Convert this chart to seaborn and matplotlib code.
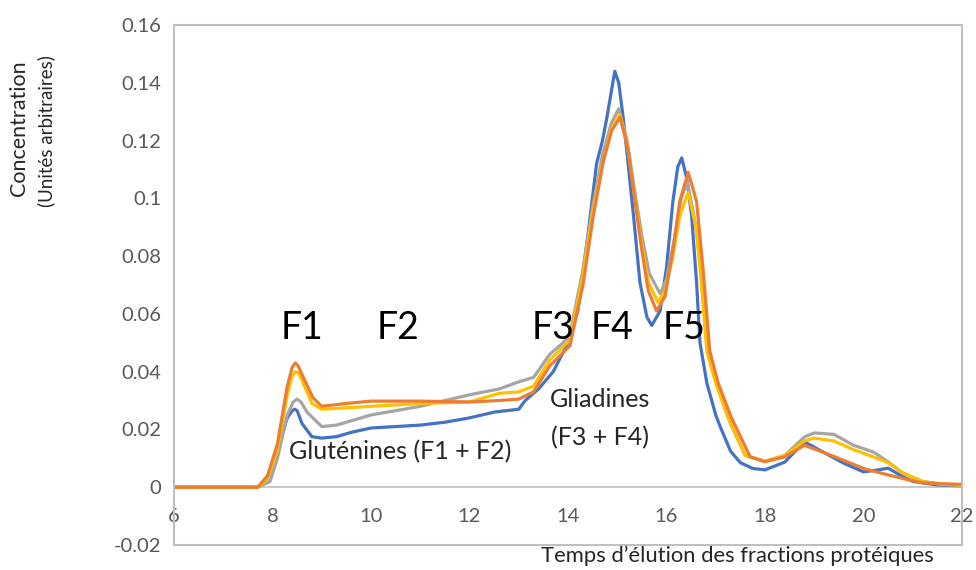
import numpy as np
import pandas as pd
import matplotlib
matplotlib.use("Agg")
import matplotlib.pyplot as plt
import seaborn as sns

# ---- data ----
x_blue = [6, 7, 7.7, 7.9, 8.1, 8.3, 8.4, 8.45, 8.5, 8.6, 8.8, 9.0, 9.3, 9.6, 10, 10.5, 11, 11.5, 12, 12.5, 13.0,
          13.13, 13.4, 13.7, 14.0, 14.2, 14.41, 14.58, 14.7, 14.79, 14.88, 14.95, 15.03, 15.12, 15.19,
          15.33, 15.46, 15.6, 15.7, 15.87, 16.0, 16.13, 16.23, 16.31, 16.41, 16.51, 16.61, 16.68,
          16.82, 17.0, 17.09, 17.3, 17.5, 17.75, 18.0, 18.4, 18.8, 19.2, 19.6, 20.0, 20.3, 20.5, 20.8, 21.0,
          21.5, 22]
y_blue = [0, 0, 0, 0.003, 0.013, 0.024, 0.0265, 0.027, 0.0265, 0.022, 0.0175, 0.017, 0.0175, 0.019, 0.0205,
          0.021, 0.0215, 0.0225, 0.024, 0.026, 0.027, 0.030, 0.034, 0.040, 0.050, 0.061, 0.088, 0.112, 0.120,
          0.128, 0.137, 0.144, 0.140, 0.128, 0.117, 0.094, 0.071, 0.059, 0.056, 0.061, 0.076,
          0.099, 0.111, 0.114, 0.107, 0.094, 0.071, 0.050, 0.036, 0.025, 0.021, 0.0125, 0.0085,
          0.0065, 0.006, 0.0087, 0.0157, 0.012, 0.0083, 0.0053, 0.006, 0.0066, 0.0036, 0.002, 0.0008, 0.0005]

x_grey = [6, 7, 7.7, 7.95, 8.1, 8.3, 8.42, 8.5, 8.58, 8.7, 9.0, 9.3, 9.6, 10, 10.5, 11, 11.5, 12, 12.6, 13.0,
          13.3, 13.63, 13.9, 14.04, 14.3, 14.5, 14.7, 14.88, 15.03, 15.2, 15.35, 15.5, 15.65, 15.87,
          16.0, 16.15, 16.3, 16.42, 16.6, 16.75, 16.85, 17.02, 17.3, 17.6, 18.0, 18.4, 18.8,
          19.0, 19.4, 19.8, 20.2, 20.5, 20.8, 21.2, 21.6, 22]
y_grey = [0, 0, 0, 0.002, 0.010, 0.025, 0.0295, 0.0305, 0.0295, 0.026, 0.021, 0.0215, 0.023, 0.025, 0.0265,
          0.028, 0.030, 0.032, 0.034, 0.0365, 0.038, 0.046, 0.050, 0.053, 0.075, 0.097, 0.115, 0.126,
          0.131, 0.120, 0.103, 0.087, 0.074, 0.067, 0.072, 0.085, 0.100, 0.106, 0.090,
          0.068, 0.048, 0.036, 0.022, 0.011, 0.009, 0.011, 0.0174, 0.0188, 0.0183, 0.0145, 0.0122, 0.0088,
          0.0048, 0.002, 0.001, 0.0007]

x_yellow = [6, 7, 7.7, 7.9, 8.1, 8.3, 8.4, 8.47, 8.53, 8.6, 8.8, 9.0, 9.5, 10, 11, 12, 12.6, 13.0, 13.3, 13.63,
            14.04, 14.3, 14.5, 14.7, 14.88, 15.05, 15.2, 15.36, 15.5, 15.63, 15.83, 15.97, 16.13,
            16.27, 16.44, 16.6, 16.7, 16.82, 17.0, 17.25, 17.6, 18.0, 18.4, 18.8, 19.0, 19.4, 19.8,
            20.2, 20.5, 20.8, 21.2, 21.6, 22]
y_yellow = [0, 0, 0, 0.003, 0.013, 0.032, 0.0385, 0.040, 0.0395, 0.037, 0.029, 0.027, 0.0275, 0.028, 0.029,
            0.0295, 0.0325, 0.033, 0.035, 0.044, 0.051, 0.073, 0.095, 0.112, 0.124, 0.129,
            0.119, 0.100, 0.084, 0.071, 0.064, 0.068, 0.080, 0.094, 0.102, 0.090, 0.072, 0.047,
            0.036, 0.024, 0.011, 0.009, 0.011, 0.016, 0.017, 0.016, 0.013, 0.0105, 0.0085, 0.005, 0.002,
            0.001, 0.0007]

x_orange = [6, 7, 7.7, 7.9, 8.1, 8.3, 8.4, 8.46, 8.52, 8.6, 8.82, 9.0, 9.5, 10, 11, 12, 12.6, 13.0, 13.3, 13.63,
            14.04, 14.31, 14.51, 14.72, 14.89, 15.06, 15.22, 15.36, 15.5, 15.63, 15.8, 15.97,
            16.13, 16.27, 16.44, 16.61, 16.74, 16.88, 17.05, 17.32, 17.7, 18.0, 18.4, 18.8, 19.2,
            19.6, 20.0, 20.4, 20.8, 21.2, 21.6, 22]
y_orange = [0, 0, 0, 0.004, 0.015, 0.035, 0.0415, 0.043, 0.042, 0.039, 0.031, 0.028, 0.029, 0.0298, 0.0298,
            0.0295, 0.030, 0.0305, 0.033, 0.042, 0.049, 0.0706, 0.0936, 0.113, 0.1236, 0.128,
            0.117, 0.099, 0.082, 0.068, 0.061, 0.066, 0.082, 0.099, 0.109, 0.099, 0.076, 0.047,
            0.036, 0.024, 0.0105, 0.0088, 0.0105, 0.0145, 0.012, 0.0093, 0.0065, 0.0047, 0.003, 0.0015,
            0.0012, 0.001]

series_names = ["s1", "s3", "s4", "s2"]
series_colors = ["#4472C4", "#A5A5A5", "#FFC000", "#ED7D31"]

x_ticks = [6, 8, 10, 12, 14, 16, 18, 20, 22]
y_ticks = [-0.02, 0, 0.02, 0.04, 0.06, 0.08, 0.1, 0.12, 0.14, 0.16]
y_tick_labels = ["-0.02", "0", "0.02", "0.04", "0.06", "0.08", "0.1", "0.12", "0.14", "0.16"]

fraction_labels = ["F1", "F2", "F3", "F4", "F5"]
fraction_x = [8.6, 10.55, 13.7, 14.9, 16.35]

# ---- build long-form table ----
frames = []
for name, xs, ys in zip(series_names,
                        [x_blue, x_grey, x_yellow, x_orange],
                        [y_blue, y_grey, y_yellow, y_orange]):
    frames.append(pd.DataFrame({"t": xs, "c": ys, "serie": name}))
df = pd.concat(frames, ignore_index=True)

sns.set_theme(style="white")
plt.rcParams["font.family"] = ["Lato", "DejaVu Sans"]

fig = plt.figure(figsize=(9.76, 5.70), dpi=100)
ax = fig.add_axes([174 / 976, 1 - 545 / 570, (962 - 174) / 976, (545 - 25) / 570])

sns.lineplot(data=df, x="t", y="c", hue="serie", hue_order=series_names,
             palette=dict(zip(series_names, series_colors)), estimator=None,
             sort=True, linewidth=2.3, legend=False, ax=ax)
for ln in ax.get_lines():
    ln.set_solid_joinstyle("round")
    ln.set_solid_capstyle("round")

ax.set_xlim(6, 22)
ax.set_ylim(-0.02, 0.16)
ax.axhline(0, color="#bfbfbf", lw=1.2, zorder=0)

for s in ax.spines.values():
    s.set_color("#bfbfbf")
    s.set_linewidth(1.5)

ax.set_yticks(y_ticks)
ax.set_yticklabels(y_tick_labels)
ax.set_xticks(x_ticks)
ax.set_xticklabels([str(v) for v in x_ticks])
ax.tick_params(axis="y", length=0, pad=9, labelsize=14.5, labelcolor="#595959")
ax.tick_params(axis="x", length=0, pad=-27, labelsize=14.5, labelcolor="#595959")
ax.set_xlabel("")
ax.set_ylabel("")

for lab, xv in zip(fraction_labels, fraction_x):
    ax.text(xv, 0.055, lab, ha="center", va="center", fontsize=27, color="black")

ax.text(10.59, 0.0122, "Gluténines (F1 + F2)", ha="center", va="center", fontsize=18)
ax.text(14.65, 0.0302, "Gliadines", ha="center", va="center", fontsize=18)
ax.text(14.65, 0.0173, "(F3 + F4)", ha="center", va="center", fontsize=18)

fig.text(19 / 976, 1 - 128 / 570, "Concentration", rotation=90, ha="center", va="center", fontsize=15.5)
fig.text(46 / 976, 1 - 131 / 570, "(Unités arbitraires)", rotation=90, ha="center", va="center", fontsize=13.5)
fig.text(737 / 976, 1 - 556 / 570, "Temps d\u2019élution des fractions protéiques", ha="center",
         va="center", fontsize=15.8)

fig.savefig("out.png", dpi=100)
